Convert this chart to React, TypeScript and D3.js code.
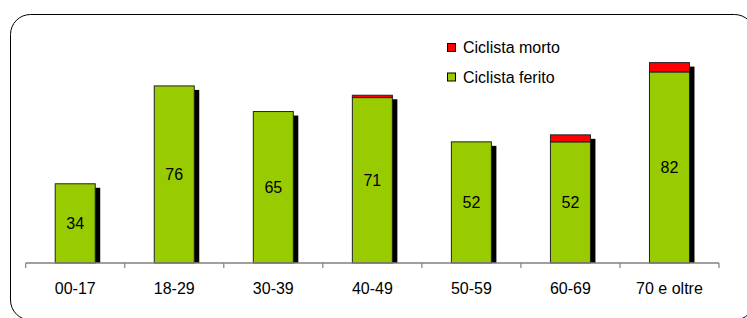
import React from "react";
import * as d3 from "d3";

const categories = ["00-17", "18-29", "30-39", "40-49", "50-59", "60-69", "70 e oltre"];
const feriti = [34, 76, 65, 71, 52, 52, 82];
const morti = [0, 0, 0, 1, 0, 3, 4];
const seriesNames = ["Ciclista morto", "Ciclista ferito"];

const W = 747;
const H = 318;
const baseY = 263;
const x0 = 25.7;
const x1 = 719;
const barW = 40;
const pad = 1 - barW / ((x1 - x0) / categories.length);

export default function App() {
  const x = d3.scaleBand<string>().domain(categories).range([x0, x1]).paddingInner(pad).paddingOuter(pad / 2);
  const y = d3.scaleLinear().domain([0, 90]).range([baseY, baseY - 90 * 2.33]);
  const step = x.step();
  const font = "'Liberation Sans', Arial, sans-serif";
  const green = "#99CC00";
  const red = "#FF0000";
  const stroke = "#222";

  return (
    <svg width={W} height={H} style={{ position: "absolute", left: 0, top: 0 }} fontFamily={font}>
      <rect x={0} y={0} width={W} height={H} fill="#fff" />
      <rect x={10.5} y={14.5} width={744} height={305.5} rx={20} ry={20} fill="none" stroke="#000" strokeWidth={1} />
      {categories.map((c, i) => {
        const bx = x(c)!;
        const total = feriti[i] + morti[i];
        const topY = y(total);
        return (
          <rect key={"s" + c} x={bx + 5} y={topY + 4} width={barW} height={baseY - topY - 4} fill="#000" />
        );
      })}
      {categories.map((c, i) => {
        const bx = x(c)!;
        const gy = y(feriti[i]);
        const ry = y(feriti[i] + morti[i]);
        return (
          <g key={c}>
            <rect x={bx} y={gy} width={barW} height={baseY - gy} fill={green} stroke={stroke} strokeWidth={1} />
            {morti[i] > 0 && (
              <rect x={bx} y={ry} width={barW} height={gy - ry} fill={red} stroke={stroke} strokeWidth={1} />
            )}
            <text x={bx + barW / 2} y={(gy + baseY) / 2} textAnchor="middle" dominantBaseline="central" fontSize={16} fill="#000">
              {feriti[i]}
            </text>
          </g>
        );
      })}
      <line x1={x0} x2={x1} y1={baseY} y2={baseY} stroke="#808080" strokeWidth={1.5} />
      {d3.range(categories.length + 1).map((i) => (
        <line key={"t" + i} x1={x0 + i * step} x2={x0 + i * step} y1={baseY} y2={baseY + 5} stroke="#808080" strokeWidth={1.2} />
      ))}
      {categories.map((c) => (
        <text key={"l" + c} x={x(c)! + barW / 2} y={294} textAnchor="middle" fontSize={16} fill="#000">
          {c}
        </text>
      ))}
      {seriesNames.map((n, i) => (
        <g key={n}>
          <rect x={447.5} y={43.5 + i * 29.5} width={8} height={8} fill={i === 0 ? red : green} stroke="#000" strokeWidth={1} />
          <text x={463} y={53 + i * 29.5} fontSize={16} fill="#000">
            {n}
          </text>
        </g>
      ))}
    </svg>
  );
}
